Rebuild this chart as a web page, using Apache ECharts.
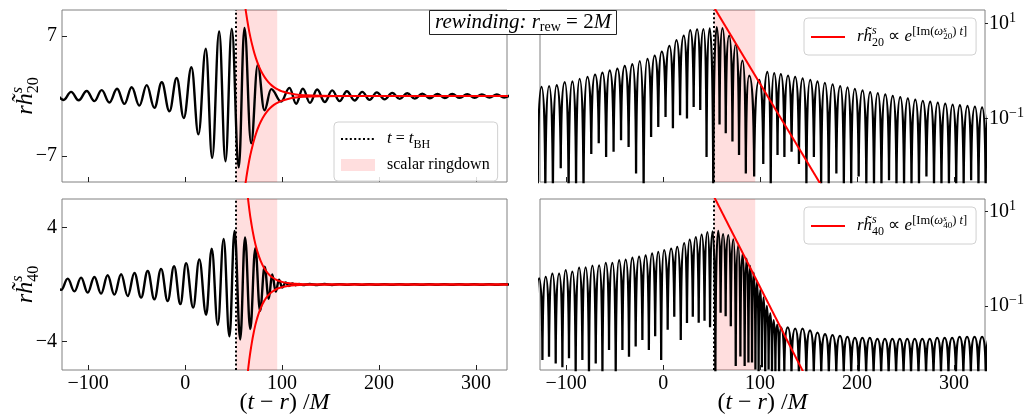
<!DOCTYPE html>
<html><head><meta charset="utf-8">
<script src="https://cdn.jsdelivr.net/npm/echarts@6/dist/echarts.min.js"></script>
<style>html,body{margin:0;padding:0;background:#fff}#c{width:1025px;height:420px}</style>
</head><body><div id="c"></div>
<script>
// ---------------- data ----------------
const xTicks = [-100, 0, 100, 200, 300];
const yTicks20 = [-7, 7];
const yTicks40 = [-4, 4];
const logTicks = [0.1, 10];
const tBH = 52.6;          // dotted line t = t_BH
const ringEnd = 95;        // end of the "scalar ringdown" band

// l=2 waveform: times and values of successive extrema
const h20T = [-133.2, -125.4, -117.6, -109.8, -101.5, -93.6, -86.1, -78.1, -70.2, -62.6,
  -55.1, -47.2, -39.6, -31.7, -24.1, -16.2, -8.7, -1.4, 6.5, 13.7,
  21.3, 27.9, 35.1, 41.6, 48.1, 55.3, 61.2, 68.1, 74.9, 81.8,
  88.8, 99.0, 107.6, 114.5, 121.4, 128.8, 136.2, 144.0, 151.7, 159.3,
  166.8, 174.8, 182.7, 190.2, 197.7, 205.7, 213.6, 221.4, 229.1, 236.9,
  244.6, 252.4, 260.1, 267.8, 275.5, 283.3, 291.0, 298.6, 306.1, 313.9,
  321.6, 329.0, 336.5];
const h20V = [0.44, -0.46, 0.48, -0.5, 0.58, -0.6, 0.68, -0.75, 0.84, -0.92,
  1.02, -1.12, 1.27, -1.38, 1.6, -1.78, 2.1, -2.55, 3.35, -4.45,
  5.5, -7.2, 7.5, -7.6, 7.8, -8.3, 7.9, -5.5, 3.6, -1.65,
  0.8, -0.65, 0.95, -0.9, 0.86, -0.8, 0.75, -0.7, 0.65, -0.6,
  0.56, -0.52, 0.48, -0.45, 0.42, -0.39, 0.36, -0.34, 0.32, -0.3,
  0.28, -0.265, 0.25, -0.235, 0.225, -0.215, 0.205, -0.195, 0.19, -0.183,
  0.178, -0.172, 0.168];
// l=2 |h| cusps (zero crossings) seen on the log panel: time and bottom value
const h20DipT = [-137.0, -129.3, -121.5, -113.7, -105.6, -97.5, -89.8, -82.1, -74.1, -66.4,
  -58.8, -51.1, -43.4, -35.6, -27.9, -20.1, -12.4, -5.0, 2.5, 10.1,
  17.5, 24.6, 31.5, 38.3, 44.8, 51.7, 58.2, 64.6, 71.5, 78.3,
  85.3, 93.9, 103.3, 111.0, 118.0, 125.1, 132.5, 140.1, 147.8, 155.5,
  163.0, 170.8, 178.7, 186.4, 194.0, 201.7, 209.6, 217.5, 225.2, 233.0,
  240.7, 248.5, 256.2, 263.9, 271.6, 279.4, 287.1, 294.8, 302.3, 310.0,
  317.7, 325.3, 332.7, 340.0];
const h20DipV = [0.003, 0.003, 0.002, 0.002, 0.009, 0.002, 0.003, 0.002, 0.018, 0.03,
  0.0155, 0.02, 0.035, 0.025, 0.007, 0.002, 0.041, 0.066, 0.107, 0.062,
  0.117, 0.1, 0.175, 0.15, 0.0155, 0.002, 0.075, 0.049, 0.033, 0.017,
  0.007, 0.006, 0.011, 0.003, 0.017, 0.0155, 0.02, 0.011, 0.003, 0.0155,
  0.003, 0.003, 0.007, 0.003, 0.003, 0.006, 0.003, 0.003, 0.003, 0.005,
  0.003, 0.003, 0.003, 0.003, 0.006, 0.003, 0.003, 0.003, 0.003, 0.003,
  0.005, 0.003, 0.003, 0.003];
// l=2 red envelope (linear panel) and exponential fit (log panel)
const env20T = [57, 59, 61, 63, 65, 67, 70, 73, 76, 80, 84, 88, 92, 96, 100, 106, 114, 124, 140, 170, 250, 333];
const env20V = [15.3, 13.1, 11.2, 9.6, 8.2, 7.0, 5.57, 4.41, 3.49, 2.56, 1.87, 1.37, 1.0, 0.74, 0.54, 0.34, 0.18, 0.083, 0.024, 0.002, 0, 0];
const fit20T = [52.6, 170];
const fit20V = [21.6, 0.0023];

// l=4 waveform
const h40T = [-134.8, -127.9, -121.1, -114.2, -107.3, -100.5, -93.6, -86.7, -79.9, -73.0,
  -66.0, -59.2, -52.3, -45.4, -38.6, -31.7, -24.8, -18.0, -11.4, -4.9,
  1.0, 8.3, 14.6, 21.7, 27.4, 33.7, 39.7, 45.7, 51.0, 56.8,
  61.8, 67.2, 72.4, 77.3, 82.0, 86.2, 89.8, 93.5, 96.8, 100.2,
  103.6, 107.0, 110.5, 114.0, 117.6, 121.5, 128.5, 136.2, 143.8, 151.5,
  159.2, 167.0, 174.7, 182.4, 190.1, 197.8, 205.5, 213.2, 221.0, 228.7,
  236.4, 244.1, 251.8, 259.5, 267.3, 275.0, 282.7, 290.4, 298.1, 305.8,
  313.5, 321.2, 329.0, 336.7];
const h40V = [0.37, -0.38, 0.41, -0.48, 0.48, -0.57, 0.53, -0.64, 0.65, -0.71,
  0.72, -0.81, 0.81, -0.92, 0.95, -1.04, 1.1, -1.16, 1.28, -1.38,
  1.5, -1.62, 1.76, -2.12, 2.52, -2.84, 3.2, -3.64, 3.76, -3.86,
  3.3, -3.12, 2.55, -1.85, 1.25, -1.0, 0.7, -0.5, 0.33, -0.22,
  0.15, -0.1, 0.07, -0.05, 0.04, -0.035, 0.035, -0.033, 0.033, -0.03,
  0.027, -0.025, 0.024, -0.023, 0.022, -0.021, 0.021, -0.021, 0.02, -0.02,
  0.02, -0.02, 0.02, -0.02, 0.02, -0.02, 0.021, -0.021, 0.021, -0.022,
  0.022, -0.022, 0.022, -0.022];
const h40DipT = [-138.3, -131.4, -124.5, -117.7, -110.8, -103.9, -97.1, -90.2, -83.3, -76.5,
  -69.5, -62.6, -55.8, -48.9, -42.0, -35.2, -28.3, -21.4, -14.7, -8.2,
  -2.0, 4.7, 11.5, 18.2, 24.6, 30.6, 36.7, 42.7, 48.4, 53.9,
  59.3, 64.5, 69.8, 74.9, 79.7, 84.1, 88.0, 91.7, 95.2, 98.5,
  101.9, 105.3, 108.8, 112.3, 115.8, 119.6, 125.0, 132.4, 140.0, 147.7,
  155.4, 163.1, 170.9, 178.6, 186.3, 194.0, 201.7, 209.4, 217.1, 224.9,
  232.6, 240.3, 248.0, 255.7, 263.4, 271.2, 278.9, 286.6, 294.3, 302.0,
  309.7, 317.4, 325.1, 332.9, 340.5];
const h40DipV = [0.004, 0.006, 0.0071, 0.0084, 0.006, 0.005, 0.0078, 0.003, 0.0071, 0.003,
  0.006, 0.003, 0.0116, 0.003, 0.0116, 0.0084, 0.0137, 0.019, 0.0116, 0.0226,
  0.0071, 0.031, 0.059, 0.019, 0.043, 0.059, 0.044, 0.048, 0.035, 0.003,
  0.071, 0.06, 0.037, 0.0053, 0.0085, 0.0053, 0.0063, 0.0063, 0.0045, 0.004,
  0.005, 0.004, 0.0045, 0.004, 0.004, 0.004, 0.004, 0.003, 0.003, 0.003,
  0.003, 0.003, 0.003, 0.003, 0.003, 0.003, 0.003, 0.003, 0.003, 0.003,
  0.003, 0.003, 0.003, 0.003, 0.003, 0.003, 0.003, 0.003, 0.003, 0.003,
  0.003, 0.003, 0.003, 0.003, 0.003];
const env40T = [60, 62, 64, 66, 68, 71, 74, 78, 82, 86, 90, 95, 100, 106, 114, 124, 140, 170, 333];
const env40V = [9.75, 8.0, 6.56, 5.38, 4.42, 3.28, 2.44, 1.64, 1.10, 0.74, 0.5, 0.30, 0.186, 0.103, 0.046, 0.017, 0.003, 0, 0];
const fit40T = [52.6, 150];
const fit40V = [20.2, 0.0024];

// ---------------- chart ----------------
const FONT = 'Liberation Serif';
const PINK = 'rgba(255, 0, 0, 0.13)';
const pairs = (T, V) => T.map((t, i) => [t, V[i]]);
const neg = (T, V) => T.map((t, i) => [t, -V[i]]);
// |h| on the log axis: one arch per extremum, broken at each cusp
const arches = (T, V, DT, DV) => {
  const out = [];
  for (let k = 0; k < T.length; k++) {
    if (k > 0) out.push([DT[k], null]);
    out.push([DT[k], DV[k]], [T[k], Math.abs(V[k])], [DT[k + 1], DV[k + 1]]);
  }
  return out;
};
const fmtNum = v => (v < 0 ? '\u2212' + (-v) : String(v));

const chart = echarts.init(document.getElementById('c'), null, {renderer: 'canvas'});

const gridBase = {show: true, borderColor: '#808080', borderWidth: 1, backgroundColor: 'transparent', containLabel: false, outerBoundsMode: 'none'};
const grids = [
  {left: 62, top: 10, width: 445, height: 172},
  {left: 540, top: 10, width: 445, height: 172},
  {left: 62, top: 199, width: 445, height: 171},
  {left: 540, top: 199, width: 445, height: 171}
].map(g => Object.assign({}, gridBase, g));

const italicRich = {fontStyle: 'italic', fontFamily: FONT};
const xAx = (gi, labels) => ({
  type: 'value', gridIndex: gi, min: -127, max: 332,
  axisLine: {show: false, onZero: false}, splitLine: {show: false},
  axisTick: {show: true, inside: true, length: 5, lineStyle: {color: '#222', width: 1}, customValues: xTicks},
  axisLabel: {show: labels, customValues: xTicks, fontSize: 20, fontFamily: FONT, color: '#000', margin: 4, formatter: fmtNum},
  name: labels ? '({i|t} \u2212 {i|r}) /{i|M}' : '',
  nameLocation: 'middle', nameGap: 21, nameMoveOverlap: false,
  nameTextStyle: {fontSize: 24, lineHeight: 24, fontFamily: FONT, color: '#000',
    rich: {i: Object.assign({fontSize: 24, lineHeight: 24}, italicRich)}}
});
const nameRich = {
  i: Object.assign({fontSize: 24, lineHeight: 32}, italicRich),
  sup: Object.assign({fontSize: 16, lineHeight: 18, verticalAlign: 'top', padding: [0, -6.2, 0, 0]}, italicRich),
  sub: {fontSize: 16, lineHeight: 18, verticalAlign: 'bottom', fontFamily: FONT}
};
const linY = (gi, lim, ticks, nm) => ({
  type: 'value', gridIndex: gi, min: -lim, max: lim,
  axisLine: {show: false, onZero: false}, splitLine: {show: false},
  axisTick: {show: true, inside: true, length: 5, lineStyle: {color: '#222', width: 1}, customValues: ticks},
  axisLabel: {show: true, customValues: ticks, fontSize: 20, fontFamily: FONT, color: '#000', margin: 5, formatter: fmtNum},
  name: nm, nameLocation: 'middle', nameRotate: 90, nameGap: 20, nameMoveOverlap: false,
  nameTextStyle: {fontSize: 24, lineHeight: 32, fontFamily: FONT, color: '#000', rich: nameRich}
});
const logY = (gi, lo, hi) => ({
  type: 'log', logBase: 10, gridIndex: gi, position: 'right', min: lo, max: hi,
  axisLine: {show: false, onZero: false}, splitLine: {show: false},
  minorTick: {show: false}, minorSplitLine: {show: false},
  axisTick: {show: true, inside: false, length: 3, lineStyle: {color: '#222', width: 1}, customValues: logTicks},
  axisLabel: {show: true, customValues: logTicks, fontSize: 20, lineHeight: 24, fontFamily: FONT, color: '#000', margin: 4,
    formatter: v => (v > 1 ? '10{sup|1}' : '10{sup|\u22121}'),
    rich: {sup: {fontSize: 14, lineHeight: 14, verticalAlign: 'top', fontFamily: FONT}}}
});

const bandSeries = i => ({
  type: 'line', name: 'ring', xAxisIndex: i, yAxisIndex: i, data: [], color: PINK, z: 1, silent: true,
  markArea: {silent: true, itemStyle: {color: PINK}, label: {show: false}, data: [[{xAxis: tBH}, {xAxis: ringEnd}]]}
});
const tbhSeries = i => ({
  type: 'line', name: 'tbh', xAxisIndex: i, yAxisIndex: i, data: [], color: '#000', symbol: 'none', silent: true,
  lineStyle: {color: '#000', width: 2, type: [2, 2.4]},
  markLine: {silent: true, symbol: ['none', 'none'], label: {show: false}, animation: false,
    lineStyle: {color: '#000', width: 2, type: [2, 2.4]}, data: [{xAxis: tBH}]}
});
const waveSeries = (i, data) => ({
  type: 'line', xAxisIndex: i, yAxisIndex: i, data, symbol: 'none', smooth: 0.4, smoothMonotone: 'x',
  lineStyle: {color: '#000', width: 2.4}, color: '#000', z: 3, silent: true
});
const archSeries = (i, data) => ({
  type: 'line', xAxisIndex: i, yAxisIndex: i, data, symbol: 'none', smooth: 1, smoothMonotone: 'x', connectNulls: false,
  lineStyle: {color: '#000', width: 2.3}, color: '#000', z: 3, silent: true
});
const redSeries = (i, data, name) => ({
  type: 'line', name, xAxisIndex: i, yAxisIndex: i, data, symbol: 'none', smooth: name ? false : 0.5,
  lineStyle: {color: '#ff0000', width: 2}, color: '#ff0000', z: 6, silent: true
});

const legRich = {
  i: Object.assign({fontSize: 17, lineHeight: 24}, italicRich),
  sub2: {fontSize: 12, lineHeight: 16, verticalAlign: 'bottom', fontFamily: FONT},
  sub: {fontSize: 12, lineHeight: 14, verticalAlign: 'bottom', fontFamily: FONT},
  supz: Object.assign({fontSize: 12, lineHeight: 14, verticalAlign: 'top', padding: [0, -4.7, 0, 0]}, italicRich),
  sup: {fontSize: 12.5, lineHeight: 12, verticalAlign: 'top', fontFamily: FONT},
  supi: Object.assign({fontSize: 12.5, lineHeight: 12, verticalAlign: 'top'}, italicRich),
  ssup: Object.assign({fontSize: 9, lineHeight: 9, verticalAlign: 'top', padding: [0, -3.5, 0, 0]}, italicRich),
  ssub: {fontSize: 9, lineHeight: 9, verticalAlign: 'top', padding: [7, 0, 0, 0], fontFamily: FONT}
};
const legText = {
  tbh: '{i|t} = {i|t}{sub2|BH}',
  ring: 'scalar ringdown',
  fit20: '{i|r}{i|h\u0303}{supz|s}{sub|20} \u221D {i|e}{sup|[Im(}{supi|\u03C9}{ssup|s}{ssub|20}{sup|) }{supi|t}{sup|]}',
  fit40: '{i|r}{i|h\u0303}{supz|s}{sub|40} \u221D {i|e}{sup|[Im(}{supi|\u03C9}{ssup|s}{ssub|40}{sup|) }{supi|t}{sup|]}'
};
const legBase = {
  orient: 'vertical', selectedMode: false, itemWidth: 34, itemHeight: 12, itemGap: 3,
  backgroundColor: 'rgba(255,255,255,0.85)', borderColor: '#d0d0d0', borderWidth: 1, borderRadius: 4,
  formatter: n => legText[n],
  textStyle: {fontSize: 17, lineHeight: 22, fontFamily: FONT, color: '#000', padding: [0, 0, 0, 7], rich: legRich}
};
const noSym = {opacity: 0};

const option = {
  animation: false,
  textStyle: {fontFamily: FONT},
  title: {
    text: '{it|rewinding:} {i|r}{sub|rew} = 2{i|M}', left: 429, top: 10, padding: [1, 6, 1, 6],
    borderColor: '#222', borderWidth: 1, backgroundColor: '#fff', z: 10,
    textStyle: {fontSize: 21, lineHeight: 23, fontFamily: FONT, fontWeight: 'normal', color: '#000',
      rich: {it: Object.assign({fontSize: 21, lineHeight: 23}, italicRich), i: Object.assign({fontSize: 21, lineHeight: 23}, italicRich),
        sub: {fontSize: 14, lineHeight: 15, verticalAlign: 'bottom', fontFamily: FONT}}}
  },
  legend: [
    Object.assign({}, legBase, {left: 334, top: 122, padding: [5, 8, 5, 6],
      textStyle: Object.assign({}, legBase.textStyle, {fontSize: 16, lineHeight: 22}),
      data: [{name: 'tbh', itemStyle: noSym, lineStyle: {color: '#000', width: 2, type: [2, 2.4]}}, {name: 'ring', icon: 'rect', itemStyle: {color: PINK}}]}),
    Object.assign({}, legBase, {left: 804, top: 18, padding: [7, 9, 6, 6],
      data: [{name: 'fit20', itemStyle: noSym, lineStyle: {color: '#ff0000', width: 2, type: 'solid'}}]}),
    Object.assign({}, legBase, {left: 804, top: 207, padding: [7, 9, 6, 6],
      data: [{name: 'fit40', itemStyle: noSym, lineStyle: {color: '#ff0000', width: 2, type: 'solid'}}]})
  ],
  grid: grids,
  xAxis: [xAx(0, false), xAx(1, false), xAx(2, true), xAx(3, true)],
  yAxis: [
    linY(0, 10, yTicks20, '{i|r}{i|h\u0303}{sup|s}{sub|20}'),
    logY(1, 0.00462, 19.1),
    linY(2, 6, yTicks40, '{i|r}{i|h\u0303}{sup|s}{sub|40}'),
    logY(3, 0.00438, 18.2)
  ],
  series: [
    bandSeries(0), bandSeries(1), bandSeries(2), bandSeries(3),
    tbhSeries(0), tbhSeries(1), tbhSeries(2), tbhSeries(3),
    waveSeries(0, pairs(h20T, h20V)),
    archSeries(1, arches(h20T, h20V, h20DipT, h20DipV)),
    waveSeries(2, pairs(h40T, h40V)),
    archSeries(3, arches(h40T, h40V, h40DipT, h40DipV)),
    redSeries(0, pairs(env20T, env20V)), redSeries(0, neg(env20T, env20V)),
    redSeries(2, pairs(env40T, env40V)), redSeries(2, neg(env40T, env40V)),
    redSeries(1, pairs(fit20T, fit20V), 'fit20'),
    redSeries(3, pairs(fit40T, fit40V), 'fit40')
  ]
};
chart.setOption(option);
</script></body></html>
